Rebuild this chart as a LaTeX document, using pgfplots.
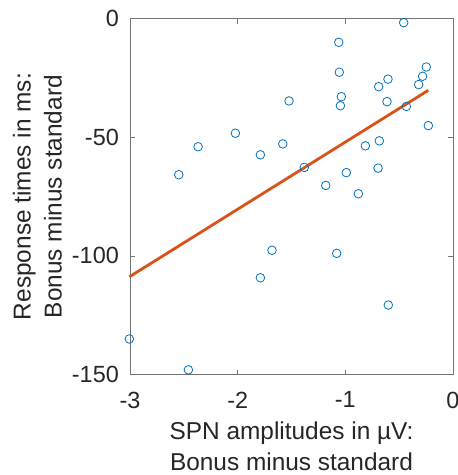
\documentclass[border=0pt]{standalone}
\usepackage{pgfplots}
\pgfplotsset{compat=1.18}
\usetikzlibrary{calc}
\usepackage{fontspec}
\setmainfont{Liberation Sans}
\definecolor{mblue}{rgb}{0,0.447,0.741}
\definecolor{morange}{rgb}{0.85,0.325,0.098}
\definecolor{mtext}{rgb}{0.15,0.15,0.15}
\begin{document}
\begin{tikzpicture}
\begin{axis}[
  name=ax,
  scale only axis, width=323bp, height=356bp,
  xmin=-3, xmax=0, ymin=-150, ymax=0,
  xtick={-3,-2,-1,0}, xticklabels={-3,-2,-1,0},
  ytick={-150,-100,-50,0}, yticklabels={-150,-100,-50,0},
  tick align=inside, major tick length=5bp,
  axis line style={black!55, line width=0.7bp},
  tick style={black!55, line width=0.7bp},
  ticklabel style={font=\fontsize{23.5}{28}\selectfont, text=mtext, inner sep=0pt},
  yticklabel style={anchor=east, xshift=-11bp},
  xticklabel style={anchor=north, yshift=-17bp},
  xlabel={SPN amplitudes in µV:\\Bonus minus standard},
  ylabel={Response times in ms:\\Bonus minus standard},
  xlabel style={align=center, font=\fontsize{24.5}{31}\selectfont, text=mtext, inner sep=0pt,
    at={(axis description cs:0.5,0)}, anchor=north, yshift=-47bp},
  ylabel style={align=center, font=\fontsize{24.5}{31}\selectfont, text=mtext, inner sep=0pt,
    at={(axis description cs:0,0.5)}, anchor=south, yshift=68bp},
  clip=false,
]
\addplot[only marks, mark=o, mark size=4.3bp, mblue, line width=0.8bp] coordinates {
(-0.458,-1.7) (-1.061,-10.0) (-1.056,-22.6) (-0.248,-20.4) (-0.282,-24.3)
(-0.319,-27.8) (-0.604,-25.5) (-0.690,-28.7) (-1.037,-32.9) (-1.046,-36.7)
(-0.613,-35.0) (-1.523,-34.7) (-0.433,-37.0) (-0.229,-45.1) (-2.021,-48.3)
(-2.368,-54.0) (-1.581,-52.8) (-1.789,-57.4) (-0.684,-51.5) (-0.814,-53.6)
(-2.547,-65.8) (-1.381,-62.7) (-0.991,-64.9) (-0.696,-63.0) (-1.182,-70.3)
(-0.879,-73.8) (-1.681,-97.6) (-1.080,-98.9) (-1.789,-109.2) (-0.601,-120.7)
(-3.006,-135.0) (-2.458,-148.0)
};
\addplot[morange, line width=2.8bp] coordinates {(-3.006,-108.8) (-0.229,-30.2)};
\end{axis}
\pgfresetboundingbox
\path ($(ax.north west)+(-130bp,18.6bp)$) rectangle ($(ax.north west)+(328bp,-456.4bp)$);
\end{tikzpicture}
\end{document}
